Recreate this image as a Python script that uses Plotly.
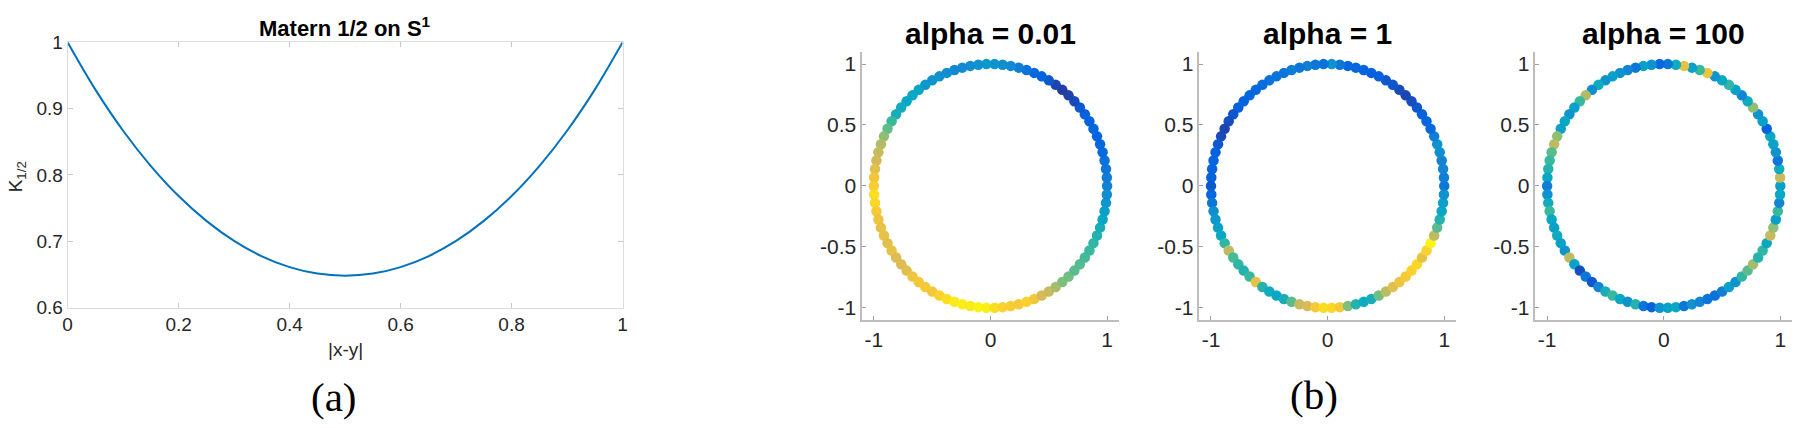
import numpy as np
import plotly.graph_objects as go

# ---------------- data ----------------
# (a) Matern 1/2 kernel on S^1
dist = [0.0, 0.05, 0.1, 0.15, 0.2, 0.25, 0.3, 0.35, 0.4, 0.45, 0.5,
        0.55, 0.6, 0.65, 0.7, 0.75, 0.8, 0.85, 0.9, 0.95, 1.0]
kval = [1.0, 0.9287, 0.8667, 0.8134, 0.7682, 0.7308, 0.7006, 0.6774, 0.6611, 0.6513, 0.6481,
        0.6513, 0.6611, 0.6774, 0.7006, 0.7308, 0.7682, 0.8134, 0.8667, 0.9287, 1.0]

# (b) samples on the circle, angle in degrees (counter-clockwise from (1,0))
angles_deg = list(range(0, 360, 4))

vals_001 = [0.24, 0.22, 0.20, 0.18, 0.15, 0.14, 0.13, 0.14, 0.13, 0.12,
            0.10, 0.07, 0.05, 0.04, 0.06, 0.10, 0.13, 0.15, 0.18, 0.22,
            0.26, 0.28, 0.30, 0.32, 0.30, 0.28, 0.27, 0.27, 0.28, 0.30,
            0.30, 0.32, 0.36, 0.38, 0.38, 0.40, 0.42, 0.50, 0.56, 0.62,
            0.68, 0.72, 0.74, 0.78, 0.84, 0.86, 0.92, 0.90, 0.85, 0.82,
            0.80, 0.80, 0.78, 0.80, 0.76, 0.76, 0.78, 0.82, 0.84, 0.85,
            0.84, 0.88, 0.92, 0.95, 0.96, 0.95, 0.98, 0.97, 0.92, 0.88,
            0.86, 0.85, 0.88, 0.84, 0.75, 0.72, 0.66, 0.60, 0.58, 0.55,
            0.54, 0.52, 0.50, 0.48, 0.45, 0.42, 0.38, 0.35, 0.32, 0.28]

vals_1 = [0.20, 0.22, 0.25, 0.24, 0.28, 0.30, 0.22, 0.15, 0.14, 0.12,
          0.10, 0.08, 0.06, 0.07, 0.10, 0.10, 0.12, 0.12, 0.13, 0.14,
          0.14, 0.20, 0.30, 0.18, 0.20, 0.22, 0.20, 0.22, 0.20, 0.18,
          0.18, 0.16, 0.15, 0.14, 0.13, 0.12, 0.10, 0.08, 0.06, 0.07,
          0.10, 0.12, 0.14, 0.13, 0.12, 0.10, 0.14, 0.20, 0.28, 0.32,
          0.35, 0.38, 0.48, 0.70, 0.52, 0.48, 0.45, 0.50, 0.80, 0.45,
          0.40, 0.38, 0.42, 0.55, 0.72, 0.75, 0.85, 0.92, 0.90, 0.85,
          0.60, 0.45, 0.40, 0.42, 0.58, 0.70, 0.78, 0.82, 0.85, 0.88,
          0.90, 0.80, 0.88, 0.98, 0.70, 0.55, 0.45, 0.38, 0.35, 0.30]

vals_100 = [0.35, 0.72, 0.40, 0.20, 0.30, 0.35, 0.38, 0.12, 0.35, 0.30,
            0.62, 0.40, 0.25, 0.35, 0.48, 0.38, 0.30, 0.82, 0.50, 0.35,
            0.80, 0.40, 0.20, 0.15, 0.30, 0.35, 0.20, 0.25, 0.30, 0.35,
            0.30, 0.40, 0.28, 0.68, 0.50, 0.35, 0.30, 0.38, 0.35, 0.62,
            0.70, 0.55, 0.50, 0.45, 0.38, 0.22, 0.30, 0.40, 0.50, 0.38,
            0.35, 0.40, 0.35, 0.30, 0.70, 0.35, 0.08, 0.20, 0.10, 0.25,
            0.42, 0.50, 0.38, 0.30, 0.45, 0.20, 0.12, 0.30, 0.35, 0.38,
            0.20, 0.30, 0.25, 0.20, 0.18, 0.22, 0.35, 0.30, 0.48, 0.55,
            0.65, 0.45, 0.48, 0.38, 0.72, 0.62, 0.35, 0.50, 0.25, 0.38]

panel_titles = ["alpha = 0.01", "alpha = 1", "alpha = 100"]
panel_vals = [vals_001, vals_1, vals_100]

x_ticks_a = [0, 0.2, 0.4, 0.6, 0.8, 1]
x_ticklabels_a = ["0", "0.2", "0.4", "0.6", "0.8", "1"]
y_ticks_a = [0.6, 0.7, 0.8, 0.9, 1]
y_ticklabels_a = ["0.6", "0.7", "0.8", "0.9", "1"]
x_ticks_b = [-1, 0, 1]
x_ticklabels_b = ["-1", "0", "1"]
y_ticks_b = [-1, -0.5, 0, 0.5, 1]
y_ticklabels_b = ["-1", "-0.5", "0", "0.5", "1"]

parula = [[0.0, "#352a87"], [0.125, "#0363e1"], [0.25, "#1485d4"],
          [0.375, "#06a7c6"], [0.5, "#38b99e"], [0.625, "#92bf73"],
          [0.75, "#d9ba56"], [0.875, "#fcce2e"], [1.0, "#f9fb0e"]]

# ---------------- figure ----------------
W, H = 1800, 428
FONT = "Liberation Sans, Arial, Helvetica, sans-serif"
SERIF = "Liberation Serif, DejaVu Serif, serif"
TICKC = "#262626"

def px_x(p):
    return p / W

def px_y(p):
    return 1 - p / H

fig = go.Figure()

fig.add_trace(go.Scatter(x=dist, y=kval, mode="lines", line=dict(color="#0072BD", width=2, shape="spline"),
                         xaxis="x", yaxis="y", showlegend=False, hoverinfo="skip"))

theta = np.deg2rad(np.array(angles_deg, dtype=float))
for i, vals in enumerate(panel_vals):
    k = i + 2
    fig.add_trace(go.Scatter(x=np.cos(theta), y=np.sin(theta), mode="markers",
                             marker=dict(size=10.5, color=vals, colorscale=parula, cmin=0, cmax=1,
                                         showscale=False, line=dict(width=0)),
                             xaxis=f"x{k}", yaxis=f"y{k}", showlegend=False))

layout = dict(
    width=W, height=H, margin=dict(l=0, r=0, t=0, b=0, pad=0),
    paper_bgcolor="white", plot_bgcolor="white",
    font=dict(family=FONT, color=TICKC),
)

# left panel axes
layout["xaxis"] = dict(domain=[px_x(63), px_x(621)], range=[0, 1], anchor="y",
                       tickvals=x_ticks_a, ticktext=x_ticklabels_a, ticks="inside", ticklen=5,
                       tickcolor="#c8c8c8", showgrid=False, zeroline=False, showline=True,
                       linecolor="#dcdcdc", linewidth=1, mirror="allticks",
                       tickfont=dict(size=19, color=TICKC, family=FONT))
layout["yaxis"] = dict(domain=[px_y(313), px_y(34)], range=[0.6, 1], anchor="x",
                       tickvals=y_ticks_a, ticktext=y_ticklabels_a, ticks="inside", ticklen=5,
                       tickcolor="#c8c8c8", showgrid=False, zeroline=False, showline=True,
                       linecolor="#dcdcdc", linewidth=1, mirror="allticks",
                       tickfont=dict(size=19, color=TICKC, family=FONT))

left_px = [862, 1201, 1539]
pw = 258
for i in range(3):
    k = i + 2
    x0 = left_px[i]
    layout[f"xaxis{k}"] = dict(domain=[px_x(x0), px_x(x0 + pw)], range=[-1.1, 1.1], anchor=f"y{k}",
                               tickvals=x_ticks_b, ticktext=x_ticklabels_b, ticks="inside", ticklen=4,
                               tickcolor="#a0a0a0", showgrid=False, zeroline=False, showline=True,
                               linecolor="#bdbdbd", linewidth=1.5,
                               tickfont=dict(size=21, color=TICKC, family=FONT))
    layout[f"yaxis{k}"] = dict(domain=[px_y(326), px_y(44)], range=[-1.1, 1.1], anchor=f"x{k}",
                               tickvals=y_ticks_b, ticktext=y_ticklabels_b, ticks="inside", ticklen=4,
                               tickcolor="#a0a0a0", showgrid=False, zeroline=False, showline=True,
                               linecolor="#bdbdbd", linewidth=1.5,
                               tickfont=dict(size=21, color=TICKC, family=FONT))

fig.update_layout(**layout)

ann = []
ann.append(dict(text="<b>Matern 1/2 on S<sup>1</sup></b>", x=px_x(342), y=px_y(18), xref="paper", yref="paper",
                showarrow=False, xanchor="center", yanchor="middle",
                font=dict(size=22, color="#000000", family=FONT)))
ann.append(dict(text="|x-y|", x=px_x(342), y=px_y(357), xref="paper", yref="paper",
                showarrow=False, xanchor="center", yanchor="middle",
                font=dict(size=19, color=TICKC, family=FONT)))
ann.append(dict(text="K<sub>1/2</sub>", x=px_x(12), y=px_y(175), xref="paper", yref="paper",
                showarrow=False, xanchor="center", yanchor="middle", textangle=-90,
                font=dict(size=19, color=TICKC, family=FONT)))
centers = [991, 1330, 1668]
for i in range(3):
    ann.append(dict(text=f"<b>{panel_titles[i]}</b>", x=px_x(centers[i]), y=px_y(25), xref="paper", yref="paper",
                    showarrow=False, xanchor="center", yanchor="middle",
                    font=dict(size=30, color="#000000", family=FONT)))
ann.append(dict(text="(a)", x=px_x(331), y=px_y(407), xref="paper", yref="paper",
                showarrow=False, xanchor="center", yanchor="middle",
                font=dict(size=41, color="#000000", family=SERIF)))
ann.append(dict(text="(b)", x=px_x(1316), y=px_y(405), xref="paper", yref="paper",
                showarrow=False, xanchor="center", yanchor="middle",
                font=dict(size=41, color="#000000", family=SERIF)))
fig.update_layout(annotations=ann)

fig.write_html("out.html", config={"displayModeBar": False},
               post_script="document.body.style.margin='0px';document.body.style.overflow='hidden';")
